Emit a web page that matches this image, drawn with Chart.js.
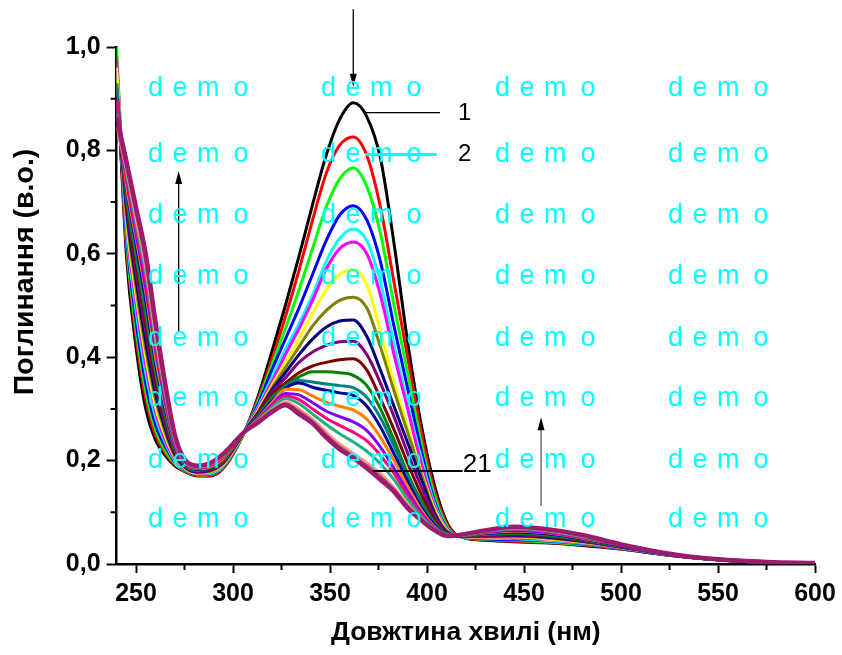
<!DOCTYPE html>
<html>
<head>
<meta charset="utf-8">
<title>Спектри поглинання</title>
<script src="https://cdn.jsdelivr.net/npm/chart.js@4.4.0/dist/chart.umd.min.js"></script>
<style>
  body { margin: 0; background: #fff; }
  canvas { display: block; }
</style>
</head>
<body>
<canvas id="myChart" width="842" height="655"></canvas>
<script>
var FONT = '"Liberation Sans", Arial, sans-serif';

var wavelength = [240, 245, 250, 255, 260, 265, 270, 276, 282, 288, 295, 306,
    313, 320, 327, 334, 341, 348, 355, 362, 369, 376, 383, 390, 397, 404, 411,
    418, 430, 445, 460, 480, 500, 525, 550, 575, 600];

// absorbance spectra 1..21
var c01 = [0.97, 0.60, 0.42, 0.30, 0.24, 0.21, 0.19, 0.177, 0.170, 0.170, 0.185, 0.256,
    0.325, 0.41, 0.5, 0.595, 0.695, 0.79, 0.86, 0.892, 0.865, 0.785, 0.62, 0.43, 0.27, 0.15, 0.075,
    0.052, 0.046, 0.043, 0.041, 0.036, 0.029, 0.017, 0.008, 0.003, 0.001];
var c02 = [0.95, 0.62, 0.44, 0.32, 0.25, 0.215, 0.192, 0.178, 0.171, 0.171, 0.186, 0.256,
    0.32, 0.395, 0.478, 0.568, 0.665, 0.755, 0.81, 0.826, 0.79, 0.69, 0.545, 0.40, 0.255, 0.14, 0.072,
    0.052, 0.047, 0.044, 0.042, 0.037, 0.029, 0.017, 0.008, 0.003, 0.001];
var c03 = [1.0, 0.63, 0.455, 0.335, 0.26, 0.22, 0.195, 0.179, 0.172, 0.173, 0.188, 0.255,
    0.315, 0.385, 0.455, 0.53, 0.61, 0.69, 0.745, 0.766, 0.73, 0.64, 0.50, 0.37, 0.235, 0.13, 0.068,
    0.052, 0.048, 0.046, 0.043, 0.038, 0.030, 0.017, 0.008, 0.003, 0.001];
var c04 = [0.94, 0.64, 0.47, 0.35, 0.27, 0.228, 0.198, 0.18, 0.173, 0.174, 0.189, 0.256,
    0.31, 0.375, 0.435, 0.495, 0.56, 0.625, 0.675, 0.693, 0.665, 0.585, 0.46, 0.34, 0.22, 0.12, 0.065,
    0.053, 0.049, 0.047, 0.045, 0.039, 0.030, 0.017, 0.008, 0.003, 0.001];
var c05 = [0.96, 0.65, 0.49, 0.37, 0.285, 0.235, 0.20, 0.181, 0.174, 0.175, 0.19, 0.257,
    0.305, 0.36, 0.415, 0.465, 0.52, 0.585, 0.63, 0.648, 0.625, 0.545, 0.425, 0.31, 0.205, 0.115, 0.064,
    0.053, 0.050, 0.049, 0.046, 0.040, 0.031, 0.018, 0.008, 0.003, 0.001];
var c06 = [0.98, 0.66, 0.505, 0.385, 0.295, 0.24, 0.203, 0.182, 0.175, 0.177, 0.192, 0.256,
    0.302, 0.352, 0.405, 0.455, 0.51, 0.57, 0.61, 0.623, 0.60, 0.52, 0.405, 0.30, 0.195, 0.11, 0.063,
    0.053, 0.051, 0.050, 0.048, 0.041, 0.031, 0.018, 0.008, 0.003, 0.001];
var c07 = [0.96, 0.67, 0.52, 0.40, 0.305, 0.248, 0.206, 0.183, 0.176, 0.178, 0.193, 0.255,
    0.298, 0.345, 0.39, 0.435, 0.485, 0.53, 0.56, 0.569, 0.54, 0.45, 0.35, 0.265, 0.18, 0.105, 0.062,
    0.053, 0.052, 0.052, 0.049, 0.042, 0.032, 0.018, 0.008, 0.003, 0.001];
var c08 = [0.93, 0.68, 0.535, 0.415, 0.32, 0.255, 0.209, 0.184, 0.177, 0.179, 0.195, 0.256,
    0.295, 0.34, 0.38, 0.42, 0.46, 0.49, 0.51, 0.516, 0.495, 0.42, 0.335, 0.255, 0.175, 0.10, 0.061,
    0.054, 0.053, 0.053, 0.051, 0.043, 0.032, 0.018, 0.008, 0.003, 0.001];
var c09 = [0.92, 0.69, 0.55, 0.43, 0.33, 0.262, 0.212, 0.185, 0.178, 0.181, 0.196, 0.257,
    0.293, 0.336, 0.37, 0.405, 0.435, 0.458, 0.47, 0.472, 0.44, 0.375, 0.305, 0.235, 0.165, 0.097, 0.06,
    0.054, 0.054, 0.055, 0.052, 0.044, 0.033, 0.018, 0.008, 0.003, 0.001];
var c10 = [0.91, 0.70, 0.565, 0.45, 0.345, 0.27, 0.215, 0.186, 0.179, 0.182, 0.197, 0.256,
    0.291, 0.332, 0.36, 0.39, 0.41, 0.423, 0.43, 0.431, 0.405, 0.35, 0.285, 0.215, 0.15, 0.092, 0.06,
    0.054, 0.055, 0.056, 0.054, 0.045, 0.033, 0.018, 0.008, 0.003, 0.001];
var c11 = [0.90, 0.71, 0.58, 0.465, 0.355, 0.277, 0.218, 0.187, 0.18, 0.183, 0.199, 0.255,
    0.289, 0.327, 0.35, 0.37, 0.383, 0.39, 0.395, 0.397, 0.375, 0.32, 0.26, 0.195, 0.135, 0.085, 0.058,
    0.054, 0.056, 0.058, 0.055, 0.046, 0.034, 0.019, 0.008, 0.003, 0.002];
var c12 = [0.92, 0.715, 0.595, 0.48, 0.37, 0.285, 0.221, 0.188, 0.181, 0.185, 0.20, 0.256,
    0.287, 0.322, 0.345, 0.362, 0.372, 0.372, 0.37, 0.365, 0.345, 0.30, 0.24, 0.175, 0.122, 0.08, 0.057,
    0.055, 0.057, 0.059, 0.056, 0.047, 0.034, 0.019, 0.008, 0.003, 0.002];
var c13 = [0.93, 0.72, 0.605, 0.495, 0.38, 0.292, 0.224, 0.189, 0.182, 0.186, 0.202, 0.257,
    0.285, 0.318, 0.343, 0.355, 0.352, 0.348, 0.345, 0.341, 0.322, 0.283, 0.228, 0.168, 0.116, 0.078, 0.057,
    0.055, 0.058, 0.061, 0.058, 0.048, 0.035, 0.019, 0.009, 0.003, 0.002];
var c14 = [0.90, 0.73, 0.62, 0.51, 0.39, 0.30, 0.227, 0.19, 0.183, 0.187, 0.203, 0.256,
    0.284, 0.315, 0.34, 0.35, 0.342, 0.336, 0.331, 0.326, 0.305, 0.265, 0.213, 0.16, 0.11, 0.075, 0.056,
    0.055, 0.059, 0.062, 0.059, 0.049, 0.035, 0.019, 0.009, 0.003, 0.002];
var c15 = [0.89, 0.735, 0.63, 0.525, 0.40, 0.307, 0.23, 0.191, 0.184, 0.188, 0.204, 0.256,
    0.282, 0.312, 0.338, 0.337, 0.325, 0.313, 0.305, 0.298, 0.28, 0.245, 0.20, 0.15, 0.105, 0.072, 0.056,
    0.055, 0.060, 0.064, 0.061, 0.050, 0.036, 0.019, 0.009, 0.004, 0.002];
var c16 = [0.88, 0.745, 0.64, 0.535, 0.415, 0.315, 0.233, 0.192, 0.185, 0.19, 0.206, 0.255,
    0.28, 0.308, 0.33, 0.327, 0.312, 0.296, 0.285, 0.275, 0.258, 0.226, 0.185, 0.14, 0.10, 0.07, 0.056,
    0.056, 0.061, 0.065, 0.062, 0.051, 0.036, 0.019, 0.009, 0.004, 0.002];
var c17 = [0.90, 0.75, 0.65, 0.55, 0.425, 0.322, 0.236, 0.193, 0.186, 0.191, 0.207, 0.256,
    0.279, 0.305, 0.325, 0.318, 0.30, 0.282, 0.268, 0.255, 0.238, 0.21, 0.175, 0.133, 0.096, 0.069, 0.055,
    0.056, 0.062, 0.067, 0.064, 0.052, 0.037, 0.020, 0.009, 0.004, 0.002];
var c18 = [0.87, 0.76, 0.66, 0.565, 0.435, 0.33, 0.24, 0.194, 0.187, 0.192, 0.209, 0.257,
    0.278, 0.302, 0.32, 0.31, 0.29, 0.27, 0.252, 0.236, 0.218, 0.194, 0.163, 0.125, 0.092, 0.068, 0.056,
    0.056, 0.063, 0.068, 0.065, 0.053, 0.037, 0.020, 0.009, 0.004, 0.002];
var c19 = [0.845, 0.765, 0.67, 0.575, 0.445, 0.337, 0.243, 0.195, 0.188, 0.193, 0.21, 0.256,
    0.276, 0.298, 0.314, 0.30, 0.28, 0.255, 0.232, 0.214, 0.196, 0.175, 0.148, 0.115, 0.088, 0.066, 0.055,
    0.056, 0.064, 0.070, 0.066, 0.054, 0.038, 0.020, 0.009, 0.004, 0.002];
var c20 = [0.85, 0.77, 0.68, 0.585, 0.455, 0.343, 0.246, 0.196, 0.189, 0.194, 0.211, 0.255,
    0.275, 0.296, 0.31, 0.295, 0.276, 0.25, 0.227, 0.209, 0.19, 0.169, 0.144, 0.112, 0.086, 0.065, 0.054,
    0.057, 0.064, 0.071, 0.067, 0.055, 0.038, 0.020, 0.009, 0.004, 0.002];
var c21 = [0.865, 0.78, 0.69, 0.60, 0.47, 0.35, 0.25, 0.198, 0.19, 0.195, 0.213, 0.256,
    0.274, 0.294, 0.307, 0.29, 0.272, 0.245, 0.222, 0.205, 0.185, 0.163, 0.14, 0.108, 0.085, 0.065, 0.054,
    0.057, 0.065, 0.072, 0.068, 0.056, 0.038, 0.020, 0.009, 0.004, 0.002];

var curves = [c01, c02, c03, c04, c05, c06, c07, c08, c09, c10, c11,
    c12, c13, c14, c15, c16, c17, c18, c19, c20, c21];
var colors = ['#000000', '#FF0000', '#00FF00', '#0000FF', '#00FFFF', '#FF00FF', '#FFFF00',
    '#808000', '#000080', '#800080', '#800000', '#008000', '#008080', '#0000A0',
    '#FF8000', '#8000FF', '#FF0080', '#20B080', '#F0A080', '#C0407F', '#9B1B6E'];

var xTicks = [250, 300, 350, 400, 450, 500, 550, 600];
var xMinor = [275, 325, 375, 425, 475, 525, 575];
var yTicks = [0, 0.2, 0.4, 0.6, 0.8, 1.0];
var yMinor = [0.1, 0.3, 0.5, 0.7, 0.9];

var yTitle = 'Поглинання (в.о.)';
var xTitle = 'Довжтина хвилі (нм)';

// curve numbers and their leader lines (nm, absorbance)
var labelText = ['1', '2', '21'];
var labelPos = [[416, 0.859], [416, 0.78], [418.4, 0.178]];
var labelSize = [24, 24, 26];
var leaders = [[367, 406.7, 0.873, '#000000', 1.2], [368, 405, 0.792, '#00FFFF', 3], [372.3, 418.4, 0.18, '#000000', 2]];
// arrows: x, tail, tip
var arrows = [[362, 1.073, 0.923, '#000000'], [272, 0.449, 0.76, '#000000'], [458.8, 0.112, 0.284, '#555555']];

var demoCols = [149, 322, 496, 669];
var demoRows = [96, 162, 223, 284, 346, 406, 468, 527];
var demoLetters = ['d', 'e', 'm', 'o'];
var demoShift = [-1, 23.5, 48, 84.5];

var overlay = {
    id: 'overlay',
    afterDraw: function(chart) {
        var ctx = chart.ctx, xs = chart.scales.x, ys = chart.scales.y;
        var area = chart.chartArea;
        ctx.save();

        // minor ticks
        ctx.strokeStyle = '#000';
        ctx.lineWidth = 2;
        ctx.beginPath();
        xMinor.forEach(function(v) {
            var px = xs.getPixelForValue(v);
            ctx.moveTo(px, area.bottom);
            ctx.lineTo(px, area.bottom + 6);
        });
        yMinor.forEach(function(v) {
            var py = ys.getPixelForValue(v);
            ctx.moveTo(area.left, py);
            ctx.lineTo(area.left - 6, py);
        });
        ctx.stroke();

        // y axis title, centred a little above the plot middle
        ctx.save();
        ctx.translate(25, ys.getPixelForValue(0.565));
        ctx.rotate(-Math.PI / 2);
        ctx.fillStyle = '#000';
        ctx.font = 'bold 28.5px ' + FONT;
        ctx.textAlign = 'center';
        ctx.textBaseline = 'middle';
        ctx.fillText(yTitle, 0, 0);
        ctx.restore();

        // leader lines
        leaders.forEach(function(l) {
            var py = ys.getPixelForValue(l[2]);
            ctx.strokeStyle = l[3];
            ctx.lineWidth = l[4];
            ctx.beginPath();
            ctx.moveTo(xs.getPixelForValue(l[0]), py);
            ctx.lineTo(xs.getPixelForValue(l[1]), py);
            ctx.stroke();
        });

        // arrows
        arrows.forEach(function(a) {
            var px = xs.getPixelForValue(a[0]);
            var tail = ys.getPixelForValue(a[1]), tip = ys.getPixelForValue(a[2]);
            var dir = tip > tail ? 1 : -1;
            ctx.strokeStyle = a[3];
            ctx.lineWidth = 1.3;
            ctx.beginPath();
            ctx.moveTo(px, tail);
            ctx.lineTo(px, tip - dir * 10);
            ctx.stroke();
            ctx.fillStyle = '#000';
            ctx.beginPath();
            ctx.moveTo(px, tip);
            ctx.lineTo(px - 3.5, tip - dir * 13);
            ctx.lineTo(px + 3.5, tip - dir * 13);
            ctx.closePath();
            ctx.fill();
        });

        // curve numbers
        ctx.fillStyle = '#000';
        ctx.textAlign = 'left';
        ctx.textBaseline = 'alphabetic';
        labelText.forEach(function(t, i) {
            ctx.font = labelSize[i] + 'px ' + FONT;
            ctx.fillText(t, xs.getPixelForValue(labelPos[i][0]), ys.getPixelForValue(labelPos[i][1]));
        });

        // demo watermark
        ctx.fillStyle = '#00FFFF';
        ctx.font = '27px ' + FONT;
        demoRows.forEach(function(ry) {
            demoCols.forEach(function(cx) {
                demoLetters.forEach(function(ch, k) {
                    ctx.fillText(ch, cx + demoShift[k], ry);
                });
            });
        });
        ctx.restore();
    }
};

var datasets = curves.map(function(c, i) {
    return {
        label: String(i + 1),
        data: c.map(function(v, k) { return {x: wavelength[k], y: v}; }),
        borderColor: colors[i],
        backgroundColor: colors[i],
        borderWidth: i == 20 ? 4.5 : 3,
        pointRadius: 0,
        cubicInterpolationMode: 'monotone',
        fill: false,
        order: 21 - i
    };
});

var tickFont = {family: FONT, size: 25, weight: 'bold'};

var chart = new Chart('myChart', {
    type: 'line',
    data: {datasets: datasets},
    options: {
        responsive: false,
        animation: false,
        devicePixelRatio: 1,
        layout: {padding: {top: 47, right: 27, left: 0, bottom: 0}},
        plugins: {legend: {display: false}, tooltip: {enabled: false}},
        scales: {
            x: {
                type: 'linear', min: 240, max: 600,
                afterBuildTicks: function(s) { s.ticks = xTicks.map(function(v) { return {value: v}; }); },
                afterFit: function(s) { s.height = 91; },
                border: {color: '#000', width: 2.5},
                grid: {drawOnChartArea: false, tickLength: 9, tickWidth: 2, tickColor: '#000'},
                ticks: {color: '#000', font: tickFont, padding: 6, maxRotation: 0, autoSkip: false},
                title: {display: true, text: xTitle, color: '#000',
                    font: {family: FONT, size: 26.5, weight: 'bold'}, padding: {top: 0, bottom: 6}}
            },
            y: {
                min: 0, max: 1.0,
                afterBuildTicks: function(s) { s.ticks = yTicks.map(function(v) { return {value: v}; }); },
                afterFit: function(s) { s.width = 116.6; },
                border: {color: '#000', width: 2.5},
                grid: {drawOnChartArea: false, tickLength: 10, tickWidth: 2, tickColor: '#000'},
                ticks: {color: '#000', font: tickFont, padding: 6,
                    callback: function(v) { return v.toFixed(1).replace('.', ','); }}
            }
        }
    },
    plugins: [overlay]
});
</script>
</body>
</html>
